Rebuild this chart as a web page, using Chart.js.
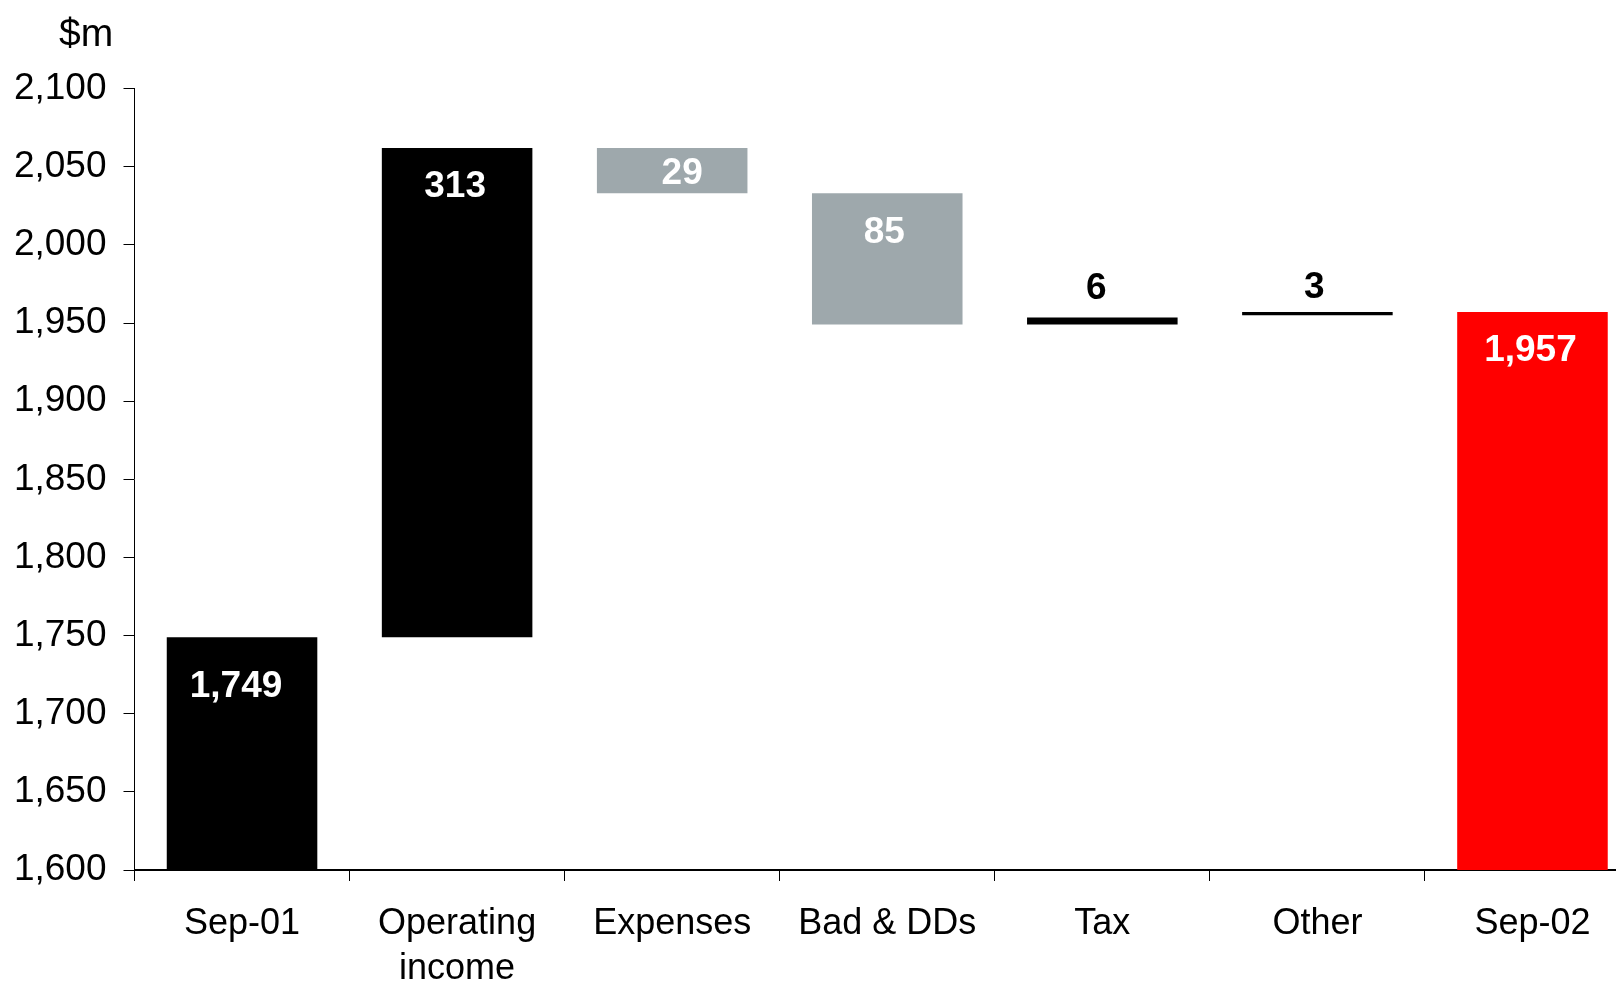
<!DOCTYPE html>
<html>
<head>
<meta charset="utf-8">
<script src="https://cdn.jsdelivr.net/npm/chart.js@4/dist/chart.umd.min.js"></script>
<style>
  html, body { margin: 0; padding: 0; background: #ffffff; overflow: hidden; }
  #wrap { position: absolute; left: 0; top: 0; width: 1640px; height: 983px; }
</style>
</head>
<body>
<div id="wrap"><canvas id="c" width="1640" height="983"></canvas></div>
<script>
// ---- data ----
const categories = ['Sep-01', ['Operating', 'income'], 'Expenses', 'Bad & DDs', 'Tax', 'Other', 'Sep-02'];
const barStart = [1600, 1749, 2033, 1949, 1949, 1955, 1600];
const barEnd   = [1749, 2062, 2062, 2033, 1953.5, 1957, 1957];
const valueLabels = ['1,749', '313', '29', '85', '6', '3', '1,957'];
const yMin = 1600;
const yMax = 2100;
const yStep = 50;
const unitLabel = '$m';

// ---- styling ----
const FONT = '"Liberation Sans", Arial, sans-serif';
const barColors = ['#000000', '#000000', '#9ea8ac', '#9ea8ac', '#000000', '#000000', '#ff0000'];

const floating = categories.map((_, i) => [barStart[i], barEnd[i]]);

const valueLabelPlugin = {
  id: 'valueLabels',
  afterDatasetsDraw(chart) {
    const ctx = chart.ctx;
    const meta = chart.getDatasetMeta(0);
    // label placement relative to each bar (pixel offsets, style only)
    const dx = [-6, -2, 10, -3, -6, -3, -2];
    const dy = [50, 39, 26, 39, -29, -24, 39];
    const colors = ['#ffffff', '#ffffff', '#ffffff', '#ffffff', '#000000', '#000000', '#ffffff'];
    ctx.save();
    ctx.font = 'bold 37px ' + FONT;
    ctx.textAlign = 'center';
    ctx.textBaseline = 'middle';
    meta.data.forEach((el, i) => {
      const top = Math.min(el.y, el.base);
      ctx.fillStyle = colors[i];
      ctx.fillText(valueLabels[i], el.x + dx[i], top + dy[i]);
    });
    ctx.restore();
  }
};

const unitPlugin = {
  id: 'unitLabel',
  afterDraw(chart) {
    const ctx = chart.ctx;
    ctx.save();
    ctx.font = '39px ' + FONT;
    ctx.fillStyle = '#000000';
    ctx.textAlign = 'left';
    ctx.textBaseline = 'alphabetic';
    ctx.fillText(unitLabel, 59, 46);
    ctx.restore();
  }
};

new Chart(document.getElementById('c'), {
  type: 'bar',
  data: {
    labels: categories,
    datasets: [{
      data: floating,
      backgroundColor: barColors,
      borderWidth: 0,
      borderSkipped: false,
      barPercentage: 0.70,
      categoryPercentage: 1.0
    }]
  },
  options: {
    responsive: false,
    animation: false,
    layout: { padding: { top: 88.6, right: 0, bottom: 0, left: 0 } },
    plugins: {
      legend: { display: false },
      tooltip: { enabled: false },
      title: { display: false }
    },
    scales: {
      x: {
        offset: true,
        grid: {
          display: true,
          offset: true,
          drawOnChartArea: false,
          drawTicks: true,
          tickLength: 11,
          color: '#000000',
          lineWidth: 1
        },
        border: { display: true, color: '#000000', width: 2 },
        ticks: {
          color: '#000000',
          font: { family: FONT, size: 36, lineHeight: 1.26 },
          padding: 20,
          maxRotation: 0,
          autoSkip: false
        },
        afterFit(scale) { scale.height = 113; }
      },
      y: {
        min: yMin,
        max: yMax,
        grid: {
          display: true,
          drawOnChartArea: false,
          drawTicks: true,
          tickLength: 11,
          color: '#000000',
          lineWidth: 1
        },
        border: { display: true, color: '#000000', width: 1 },
        ticks: {
          stepSize: yStep,
          color: '#000000',
          font: { family: FONT, size: 37 },
          padding: 17
        },
        afterFit(scale) { scale.width = 134.5; }
      }
    }
  },
  plugins: [valueLabelPlugin, unitPlugin]
});
</script>
</body>
</html>
